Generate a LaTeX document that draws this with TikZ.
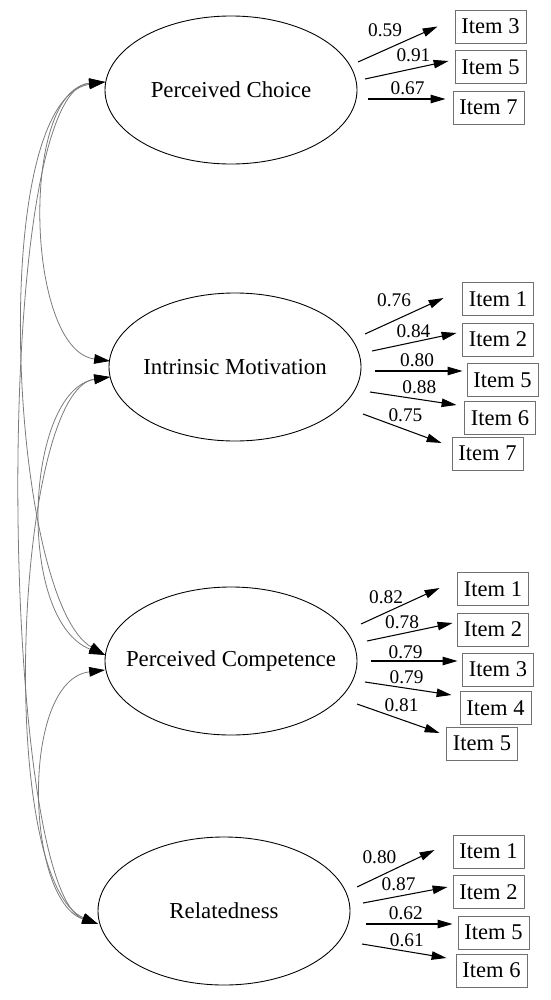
\documentclass[tikz,border=0pt]{standalone}
\usepackage{fontspec}
\setmainfont{Liberation Serif}
\usetikzlibrary{arrows.meta,shapes.geometric}
\definecolor{covgray}{HTML}{7A7A7A}
\definecolor{boxgray}{HTML}{707070}
\newcommand{\factext}[1]{\makebox[0pt]{#1}}

\begin{document}
\begin{tikzpicture}[
    x=0.2mm, y=-0.2mm,
    factor/.style={ellipse, draw, line width=0.5pt, minimum width=50.4mm, minimum height=29.6mm, inner sep=0pt, font=\fontsize{13}{15}\selectfont},
    item/.style={rectangle, draw=boxgray, line width=0.5pt, minimum width=14.2mm, minimum height=6.6mm, inner sep=0pt, font=\fontsize{12.8}{15}\selectfont},
    load/.style={-{Triangle[length=8.5pt,width=4.8pt]}, line width=0.6pt},
    lab/.style={font=\fontsize{11}{12}\selectfont, inner sep=0pt},
    cov/.style={{Triangle[length=9pt,width=5.5pt,color=black]}-{Triangle[length=9pt,width=5.5pt,color=black]}, draw=covgray, line width=0.45pt}
]
\useasboundingbox (0,0) rectangle (550,1000);

% Factors
\node[factor] (pc) at (231,90) {\factext{Perceived Choice}};
\node[factor] (im) at (235,367) {\factext{Intrinsic Motivation}};
\node[factor] (pcomp) at (231,661) {\factext{Perceived Competence}};
\node[factor] (rel) at (224,911) {\factext{Relatedness}};

% Items
\node[item] (pc3) at (490.5,26.5) {Item 3};
\node[item] (pc5) at (490.5,67) {Item 5};
\node[item] (pc7) at (488.5,107.5) {Item 7};

\node[item] (im1) at (498,299) {Item 1};
\node[item] (im2) at (498,339.5) {Item 2};
\node[item] (im5) at (502.5,380) {Item 5};
\node[item] (im6) at (500,418) {Item 6};
\node[item] (im7) at (487.5,453.5) {Item 7};

\node[item] (pcp1) at (493,589) {Item 1};
\node[item] (pcp2) at (493,629.5) {Item 2};
\node[item] (pcp3) at (498,669.5) {Item 3};
\node[item] (pcp4) at (495.5,708) {Item 4};
\node[item] (pcp5) at (482,743.5) {Item 5};

\node[item] (re1) at (488.5,851.5) {Item 1};
\node[item] (re2) at (488.5,892) {Item 2};
\node[item] (re5) at (493.5,932.5) {Item 5};
\node[item] (re6) at (491.5,970.5) {Item 6};

% Loadings
\draw[load] ([shift={(127,-28)}]pc.center) -- node[lab, pos=.34, yshift=4mm] {0.59} ([shift={(-17,0)}]pc3.west);
\draw[load] ([shift={(134,-11)}]pc.center) -- node[lab, pos=.58, yshift=2.7mm] {0.91} ([shift={(-6,-6)}]pc5.west);
\draw[load] ([shift={(137,9)}]pc.center) -- node[lab, pos=.51, yshift=2.2mm] {0.67} ([shift={(-7,-8.5)}]pc7.west);

\draw[load] ([shift={(130,-33)}]im.center) -- node[lab, pos=.37, yshift=4.1mm] {0.76} ([shift={(-18.5,-1)}]im1.west);
\draw[load] ([shift={(137,-16)}]im.center) -- node[lab, pos=.49, yshift=2.2mm] {0.84} ([shift={(-5.5,-6.5)}]im2.west);
\draw[load] ([shift={(140,4)}]im.center) -- node[lab, pos=.48, yshift=2.2mm] {0.80} ([shift={(-4,-9)}]im5.west);
\draw[load] ([shift={(135,25)}]im.center) -- node[lab, pos=.57, yshift=2.5mm] {0.88} ([shift={(-7.5,-13)}]im6.west);
\draw[load] ([shift={(128,47)}]im.center) -- node[lab, pos=.54, yshift=2.8mm] {0.75} ([shift={(-10,-10.5)}]im7.west);

\draw[load] ([shift={(130,-37)}]pcomp.center) -- node[lab, pos=.32, yshift=3.1mm] {0.82} ([shift={(-17.5,-1)}]pcp1.west);
\draw[load] ([shift={(136,-20)}]pcomp.center) -- node[lab, pos=.41, yshift=2.3mm] {0.78} ([shift={(-4.5,-6.5)}]pcp2.west);
\draw[load] ([shift={(140,0)}]pcomp.center) -- node[lab, pos=.40, yshift=1.8mm] {0.79} ([shift={(-4.5,-8.5)}]pcp3.west);
\draw[load] ([shift={(134,21)}]pcomp.center) -- node[lab, pos=.48, yshift=2.3mm] {0.79} ([shift={(-8,-13)}]pcp4.west);
\draw[load] ([shift={(126,43)}]pcomp.center) -- node[lab, pos=.54, yshift=2.9mm] {0.81} ([shift={(-6.5,-10.5)}]pcp5.west);

\draw[load] ([shift={(133,-24)}]rel.center) -- node[lab, pos=.29, yshift=3.8mm] {0.80} ([shift={(-18,-1.5)}]re1.west);
\draw[load] ([shift={(139,-8)}]rel.center) -- node[lab, pos=.42, yshift=2.5mm] {0.87} ([shift={(-5,-5)}]re2.west);
\draw[load] ([shift={(142,13)}]rel.center) -- node[lab, pos=.46, yshift=2.2mm] {0.62} ([shift={(-5,-8.5)}]re5.west);
\draw[load] ([shift={(138,33)}]rel.center) -- node[lab, pos=.53, yshift=2.3mm] {0.61} ([shift={(-9,-12.5)}]re6.west);

% Covariances
\draw[cov] ([shift={(-126,-8)}]pc.center) .. controls (20,90) and (25,350) .. ([shift={(-125,-6)}]im.center);
\draw[cov] ([shift={(-126,-8)}]pc.center) .. controls (-15,100) and (10,600) .. ([shift={(-126,-6)}]pcomp.center);
\draw[cov] ([shift={(-126,-8)}]pc.center) .. controls (-10,90) and (0,890) .. ([shift={(-126,13)}]rel.center);
\draw[cov] ([shift={(-125,10)}]im.center) .. controls (25,390) and (15,620) .. ([shift={(-126,-6)}]pcomp.center);
\draw[cov] ([shift={(-125,10)}]im.center) .. controls (15,390) and (-5,880) .. ([shift={(-126,13)}]rel.center);
\draw[cov] ([shift={(-126,9)}]pcomp.center) .. controls (20,680) and (25,900) .. ([shift={(-126,13)}]rel.center);

\end{tikzpicture}
\end{document}
